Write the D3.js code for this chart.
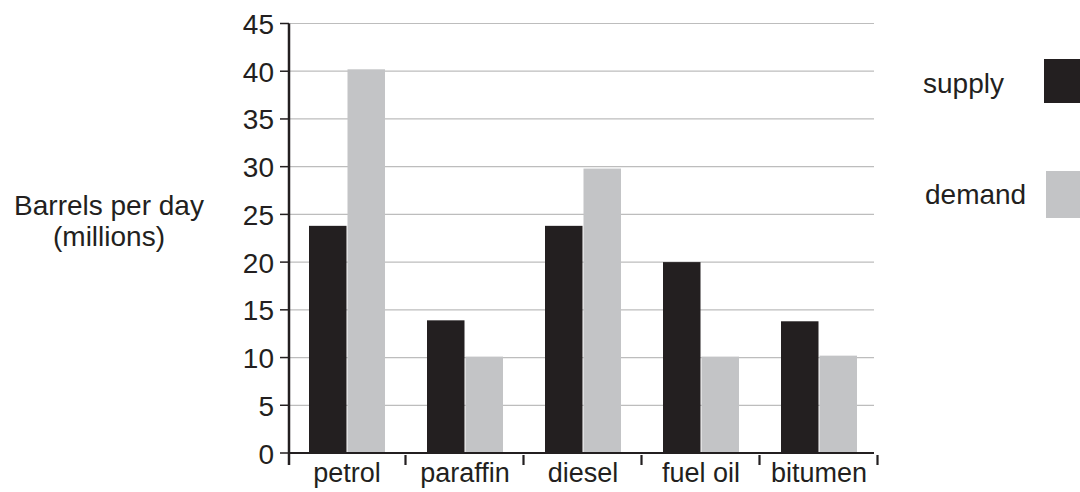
<!DOCTYPE html>
<html><head><meta charset="utf-8">
<script src="https://cdn.jsdelivr.net/npm/d3@7"></script>
<style>body{margin:0;background:#fff}svg{display:block;font-family:Arial,"Liberation Sans",sans-serif}</style>
</head><body><svg id="c" width="1080" height="492"></svg>
<script>
const categories = ["petrol","paraffin","diesel","fuel oil","bitumen"];
const supply = [23.8, 13.9, 23.8, 20.0, 13.8];
const demand = [40.2, 10.1, 29.8, 10.1, 10.2];
const yTicks = [0,5,10,15,20,25,30,35,40,45];
const seriesNames = ["supply","demand"];
const colors = ["#231f20","#c3c4c6"];

const svg = d3.select("#c");
const x0 = 289, x1 = 879, yTop = 23.5, yBot = 453;
const x = d3.scaleBand().domain(categories).range([x0, x1]).paddingInner(0).paddingOuter(0);
const y = d3.scaleLinear().domain([0,45]).range([yBot, yTop]);
const barW = 38;
const ink = "#231f20";

// gridlines
svg.append("g").selectAll("line").data(yTicks.filter(d=>d>0)).join("line")
  .attr("x1", x0).attr("x2", 874).attr("y1", d=>y(d)).attr("y2", d=>y(d))
  .attr("stroke","#bdbdbd").attr("stroke-width",1.2);

// bars
const data = categories.map((c,i)=>({c, vals:[supply[i], demand[i]]}));
const g = svg.append("g");
data.forEach(d=>{
  d.vals.forEach((v,j)=>{
    const cx = x(d.c) + x.bandwidth()/2 - 1;
    g.append("rect")
      .attr("x", cx - barW + j*barW + (j?0.5:0))
      .attr("width", barW - 0.5)
      .attr("y", y(v)).attr("height", yBot - y(v))
      .attr("fill", colors[j]);
  });
});

// y axis
svg.append("line").attr("x1",x0).attr("x2",x0).attr("y1",yTop).attr("y2",465)
  .attr("stroke",ink).attr("stroke-width",2.5);
svg.append("g").selectAll("line").data(yTicks).join("line")
  .attr("x1",280).attr("x2",x0).attr("y1",d=>y(d)).attr("y2",d=>y(d))
  .attr("stroke",ink).attr("stroke-width",1.5);
svg.append("g").selectAll("text").data(yTicks).join("text")
  .attr("x",274).attr("y",d=>y(d)+10.5).attr("text-anchor","end")
  .attr("font-size",28).attr("fill",ink).text(d=>d);

// x axis baseline
svg.append("line").attr("x1",x0).attr("x2",874).attr("y1",yBot).attr("y2",yBot)
  .attr("stroke",ink).attr("stroke-width",1.8);
// category boundary ticks
const bounds = categories.map(c=>x(c)).concat([x1]).slice(1);
svg.append("g").selectAll("line").data(bounds).join("line")
  .attr("x1",d=>d-1.5).attr("x2",d=>d-1.5).attr("y1",455).attr("y2",465)
  .attr("stroke",ink).attr("stroke-width",2.2);
svg.append("g").selectAll("text").data(categories).join("text")
  .attr("x",d=>x(d)+x.bandwidth()/2 - 1).attr("y",482).attr("text-anchor","middle")
  .attr("font-size",27).attr("fill",ink).text(d=>d);

// y label
svg.append("text").attr("x",109).attr("y",215).attr("text-anchor","middle")
  .attr("font-size",28).attr("fill",ink).text("Barrels per day");
svg.append("text").attr("x",109).attr("y",246).attr("text-anchor","middle")
  .attr("font-size",28).attr("fill",ink).text("(millions)");

// legend
const leg = [{t:seriesNames[0], tx:923, ty:93, bx:1044, by:59, bh:44},
             {t:seriesNames[1], tx:925, ty:204, bx:1046, by:171, bh:47}];
leg.forEach((l,i)=>{
  svg.append("text").attr("x",l.tx).attr("y",l.ty).attr("font-size",28).attr("fill",ink).text(l.t);
  svg.append("rect").attr("x",l.bx).attr("y",l.by).attr("width",1080-l.bx).attr("height",l.bh).attr("fill",colors[i]);
});
</script></body></html>
